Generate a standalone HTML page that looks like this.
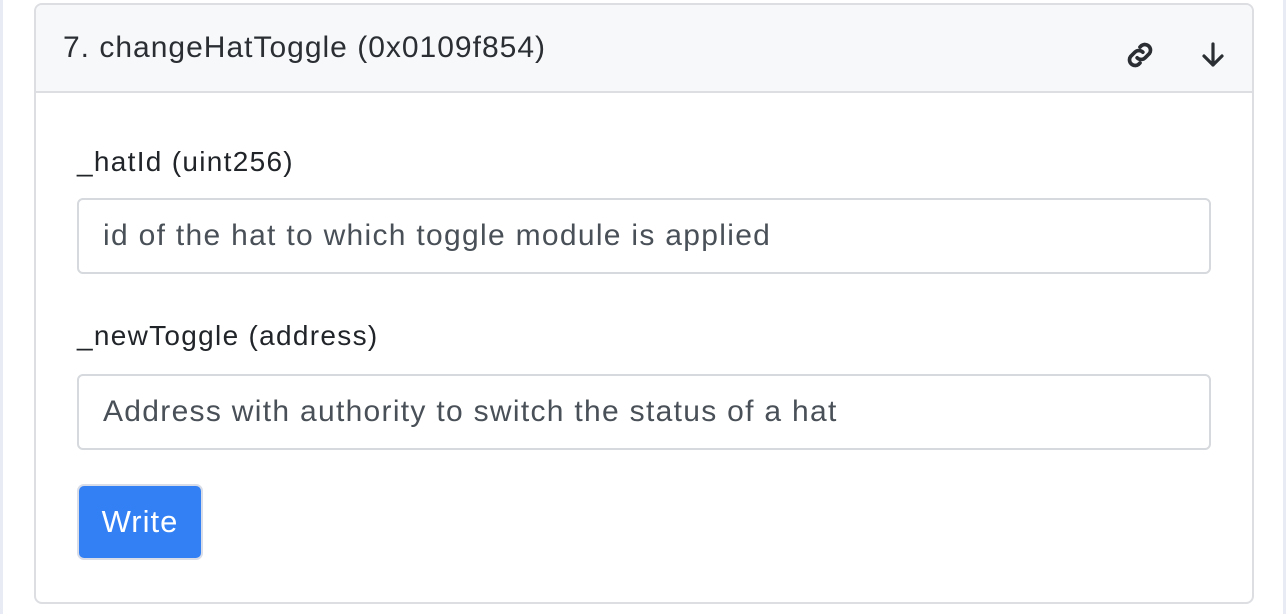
<!DOCTYPE html>
<html><head><style>
body{margin:0;width:1286px;height:614px;background:#fff;font-family:"Liberation Sans",sans-serif;position:relative;overflow:hidden;color:#212529}
.edge{position:absolute;top:0;width:3px;height:614px;background:#e8eaf4}
.card{position:absolute;left:34px;top:3px;width:1216px;height:597px;border:2px solid #dcdee2;border-radius:8px;overflow:hidden}
.hdr{height:86px;background:#f7f8fa;border-bottom:2px solid #dcdee2;position:relative}
.hdr span{position:absolute;left:27px;top:26px;font-size:30px;letter-spacing:1px;color:#2b2f33}
.lbl{position:absolute;left:41px;font-size:28px;letter-spacing:1.3px;color:#212529}
.inp{position:absolute;left:41px;width:1134px;height:76px;border:2px solid #d6d9dd;border-radius:6px;font-size:30px;letter-spacing:1.3px;color:#495057;box-sizing:border-box;padding-left:24px;line-height:72px}
.btn{position:absolute;left:41px;top:479px;width:126px;height:76px;background:#3380f4;border:2px solid #d8dde8;border-radius:7px;box-sizing:border-box;color:#fff;font-size:31px;letter-spacing:1px;text-align:center;line-height:72px}
</style></head><body>
<div class="edge" style="left:0"></div>
<div class="edge" style="left:1283px"></div>
<div class="card">
<div class="hdr"><span>7. changeHatToggle (0x0109f854)</span>
<svg style="position:absolute;left:1087px;top:33px" width="34" height="34" viewBox="0 0 24 24" fill="none" stroke="#2b2f33" stroke-width="2.6" stroke-linecap="round"><path d="M10 14a4 4 0 0 0 5.6 0l3-3a4 4 0 0 0-5.6-5.6l-1 1"/><path d="M14 10a4 4 0 0 0-5.6 0l-3 3a4 4 0 0 0 5.6 5.6l1-1"/></svg>
<svg style="position:absolute;left:1164px;top:36px" width="26" height="28" viewBox="0 0 26 28" fill="none" stroke="#2b2f33" stroke-width="3.2" stroke-linecap="round" stroke-linejoin="round"><path d="M13 3v21M4 15l9 9 9-9"/></svg>
</div>
<div class="lbl" style="top:141px">_hatId (uint256)</div>
<div class="inp" style="top:193px">id of the hat to which toggle module is applied</div>
<div class="lbl" style="top:315px">_newToggle (address)</div>
<div class="inp" style="top:369px">Address with authority to switch the status of a hat</div>
<div class="btn">Write</div>
</div>
</body></html>
